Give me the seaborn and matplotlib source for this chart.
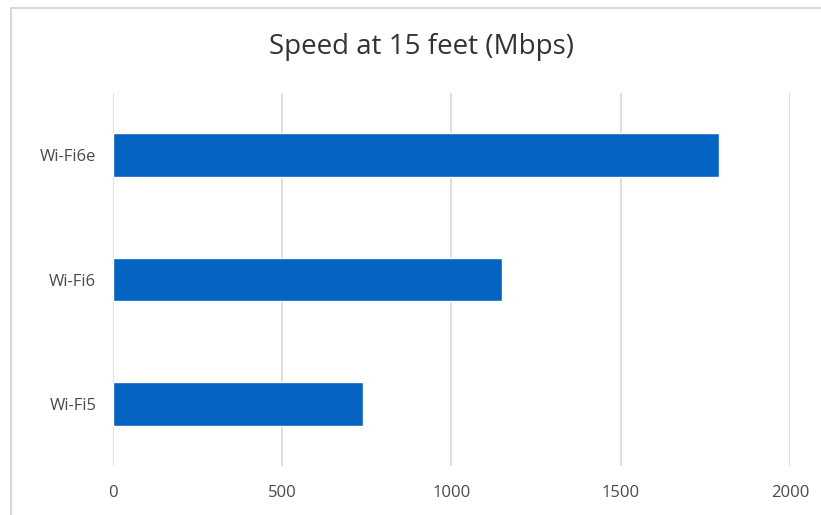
import matplotlib
matplotlib.use("Agg")
import matplotlib.pyplot as plt
import seaborn as sns
import pandas as pd
from matplotlib.patches import Rectangle

# data
standards = ["Wi-Fi6e", "Wi-Fi6", "Wi-Fi5"]
speed_mbps = [1790, 1150, 740]
ticks = [0, 500, 1000, 1500, 2000]

df = pd.DataFrame({"standard": standards, "speed": speed_mbps})

sns.set_theme(style="white")
plt.rcParams["font.family"] = ["Open Sans", "DejaVu Sans"]

fig = plt.figure(figsize=(8.21, 5.15), dpi=100)
ax = fig.add_axes([0.1376, 0.0951, 0.8246, 0.7243])

# chart frame like the spreadsheet export
fig.patches.append(Rectangle((11 / 821, -0.05), 1.0, 1.05 - 8 / 515, transform=fig.transFigure,
                             fill=False, edgecolor="#d0d0d0", linewidth=1.2))

sns.barplot(data=df, x="speed", y="standard", order=standards, orient="h",
            color="#0563C1", saturation=1, width=0.35, ax=ax)

ax.set_xlim(0, 2000)
ax.set_ylim(2.5, -0.5)
ax.set_xticks(ticks)
ax.set_xticklabels([str(t) for t in ticks])
ax.xaxis.grid(True, color="#d9d9d9", linewidth=1.2)
ax.set_axisbelow(True)
for s in ["top", "right", "bottom", "left"]:
    ax.spines[s].set_visible(False)
ax.tick_params(axis="x", length=0, pad=14, labelsize=12, labelcolor="#4a4a4a")
ax.tick_params(axis="y", length=0, pad=12, labelsize=12, labelcolor="#4a4a4a")
ax.set_xlabel("")
ax.set_ylabel("")

# title centred on the whole chart frame, not the plot area
fig.text(421 / 821, 1 - 47 / 515, "Speed at 15 feet (Mbps)", fontsize=20,
         color="#333333", ha="center", va="center")

fig.savefig("out.png", dpi=100)
